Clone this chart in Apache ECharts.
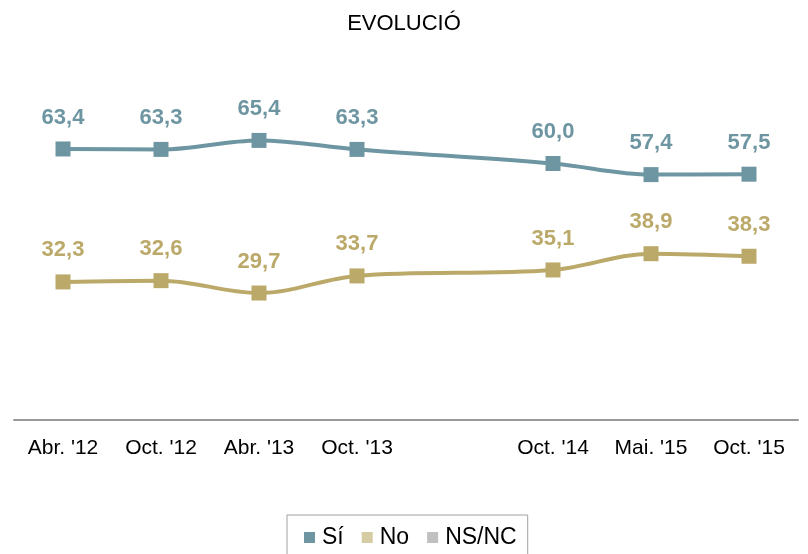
<!DOCTYPE html>
<html>
<head>
<meta charset="utf-8">
<script src="https://cdn.jsdelivr.net/npm/echarts@6/dist/echarts.min.js"></script>
<style>
html,body{margin:0;padding:0;background:#fff;}
#chart{width:808px;height:554px;}
</style>
</head>
<body>
<div id="chart"></div>
<script>
var periods = ['Abr. \'12', 'Oct. \'12', 'Abr. \'13', 'Oct. \'13', '', 'Oct. \'14', 'Mai. \'15', 'Oct. \'15'];
var si = [63.4, 63.3, 65.4, 63.3, null, 60.0, 57.4, 57.5];
var no = [32.3, 32.6, 29.7, 33.7, null, 35.1, 38.9, 38.3];
var nsnc = [null, null, null, null, null, null, null, null];

var fnt = '"Liberation Sans", Arial, sans-serif';
var dom = document.getElementById('chart');
var myChart = echarts.init(dom);

var lbl = function(color){
    return {
        show: true,
        position: 'top',
        distance: 13,
        color: color,
        fontFamily: fnt,
        fontSize: 22,
        fontWeight: 'bold',
        formatter: function(p){
            if(p.value==null) return '';
            return p.value.toFixed(1).replace('.', ',');
        }
    };
};

var option = {
    animation: false,
    title: {
        text: 'EVOLUCIÓ',
        left: 'center',
        top: 8,
        textStyle: {fontFamily: fnt, fontSize: 22, fontWeight: 'normal', color: '#000'}
    },
    legend: {
        bottom: -8,
        left: 287,
        itemWidth: 11,
        itemHeight: 11,
        itemGap: 18,
        padding: [11, 11, 13, 17],
        borderColor: '#a0a0a0',
        borderWidth: 1,
        textStyle: {fontFamily: fnt, fontSize: 23, color: '#000', padding: [0, 0, 0, 2]},
        data: [
            {name: 'Sí', icon: 'rect', itemStyle: {color: '#6e96a2'}},
            {name: 'No', icon: 'rect', itemStyle: {color: '#d6cca4'}},
            {name: 'NS/NC', icon: 'rect', itemStyle: {color: '#c0c0c0'}}
        ]
    },
    grid: {left: 14, right: 10, top: 78, bottom: 134},
    xAxis: {
        type: 'category',
        data: periods,
        boundaryGap: true,
        axisLine: {lineStyle: {color: '#999', width: 2}},
        axisTick: {show: false},
        axisLabel: {fontFamily: fnt, fontSize: 21, color: '#000', margin: 18, interval: 0}
    },
    yAxis: {
        type: 'value',
        min: 0,
        max: 80,
        show: false,
        splitLine: {show: false}
    },
    series: [
        {
            name: 'Sí',
            type: 'line',
            data: si,
            smooth: 0.35,
            connectNulls: true,
            symbol: 'rect',
            symbolSize: 15,
            lineStyle: {width: 4, color: '#6e96a2'},
            itemStyle: {color: '#6e96a2'},
            label: lbl('#6e96a2')
        },
        {
            name: 'No',
            type: 'line',
            data: no,
            smooth: 0.35,
            connectNulls: true,
            symbol: 'rect',
            symbolSize: 15,
            lineStyle: {width: 4, color: '#bba96a'},
            itemStyle: {color: '#bba96a'},
            label: lbl('#bba96a')
        },
        {
            name: 'NS/NC',
            type: 'line',
            data: nsnc,
            symbol: 'rect',
            lineStyle: {color: '#c0c0c0'},
            itemStyle: {color: '#c0c0c0'}
        }
    ]
};
myChart.setOption(option);
</script>
</body>
</html>
